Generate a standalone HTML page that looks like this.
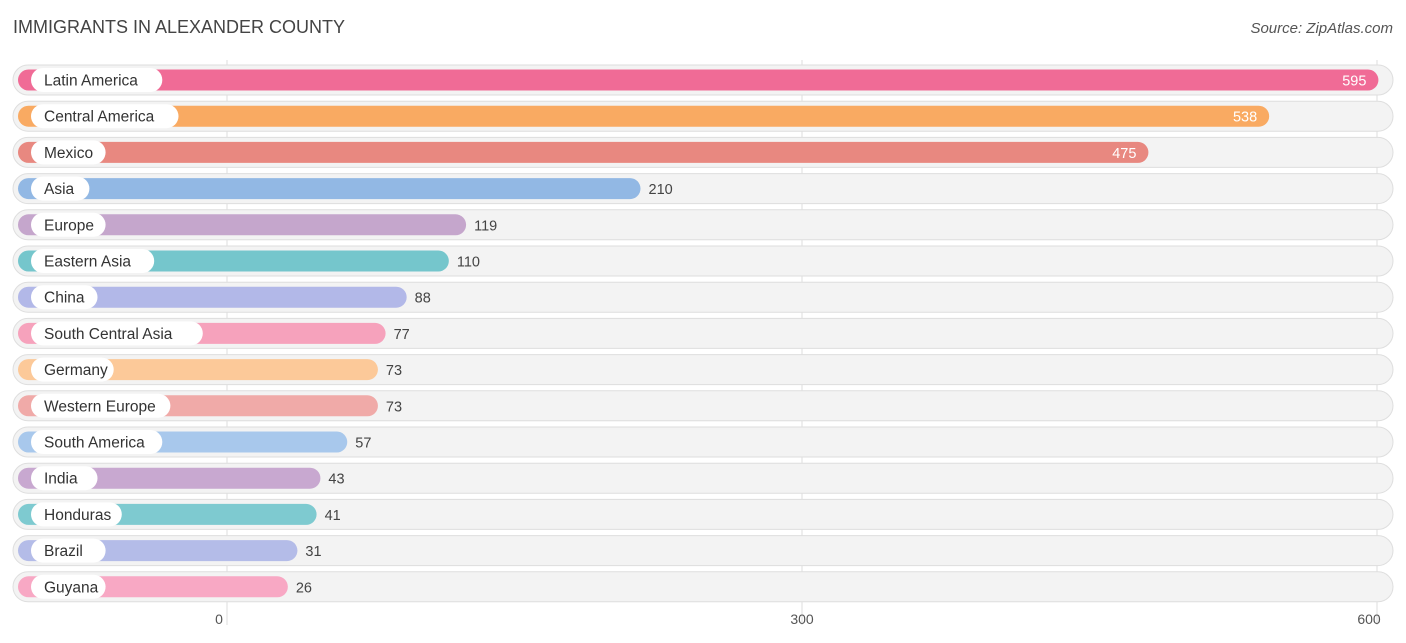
<!DOCTYPE html>
<html><head><meta charset="utf-8"><style>
body{margin:0;background:#fff;font-family:"Liberation Sans",sans-serif}
svg{display:block}
</style></head><body>
<svg id="chart" width="1406" height="643">
<text x="13" y="33" font-size="18" fill="#444">IMMIGRANTS IN ALEXANDER COUNTY</text>
<text x="1393" y="33" font-size="15" fill="#555" font-style="italic" text-anchor="end">Source: ZipAtlas.com</text>
<g id="grid"></g><g id="rows"></g><g id="axis"></g>
</svg>
<script>
const categories=["Latin America","Central America","Mexico","Asia","Europe","Eastern Asia","China","South Central Asia","Germany","Western Europe","South America","India","Honduras","Brazil","Guyana"];
const values=[595,538,475,210,119,110,88,77,73,73,57,43,41,31,26];
const colors=["#f06b96","#f9aa62","#e88880","#92b8e4","#c5a6cc","#75c6cc","#b2b8e8","#f6a2bc","#fcc999","#f0aaa8","#a8c8ec","#c8a8d0","#7ecad0","#b4bce8","#f8a8c4"];
const ticks=[0,300,600];
const NS="http://www.w3.org/2000/svg";
const x=v=>227+v*575/300;
const barEnd=v=>x(v)+11;
function mk(tag,attrs,parent){const e=document.createElementNS(NS,tag);for(const k in attrs)e.setAttribute(k,attrs[k]);parent.appendChild(e);return e;}
const grid=document.getElementById('grid'),rows=document.getElementById('rows'),axis=document.getElementById('axis');
ticks.forEach(t=>{
 const l=mk('line',{x1:x(t),x2:x(t),y1:60,y2:625,stroke:'#ddd','stroke-width':1},grid);
 
 
 const tx=mk('text',{x:x(t)-(t===0?8:t===600?8:0),y:624,'font-size':14,fill:'#555','text-anchor':'middle'},axis);
 tx.textContent=t;
 
 
});
categories.forEach((c,i)=>{
 const cy=80+i*36.2;
 const g=mk('g',{},rows);
 
 
 const bg=mk('rect',{x:13,y:cy-15,width:1380,height:30,rx:15,fill:'#f3f3f3',stroke:'#dedede'},g);
 
 
 const b=mk('rect',{x:18,y:cy-10.5,width:barEnd(values[i])-18,height:21,rx:10.5,fill:colors[i]},g);
 
 
 const lw=c.length*8.1+26;
 const p=mk('rect',{x:31,y:cy-12,width:lw,height:24,rx:12,fill:'#fff'},g);
 
 
 const t=mk('text',{x:44,y:cy+5.5,'font-size':15.5,fill:'#333'},g);
 t.textContent=c;
 
 
 const inside=values[i]>300;
 const v=mk('text',{x:inside?barEnd(values[i])-12:barEnd(values[i])+8,y:cy+5.5,'font-size':14.5,fill:inside?'#fff':'#444','text-anchor':inside?'end':'start'},g);
 v.textContent=values[i];
 
 
});
</script>
</body></html>
